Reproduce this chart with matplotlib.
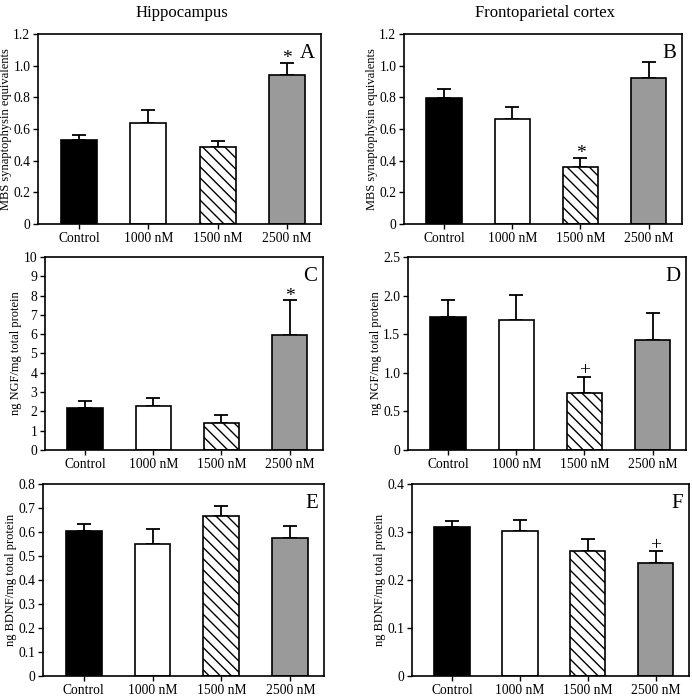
import matplotlib
matplotlib.use("Agg")
import matplotlib.pyplot as plt
import numpy as np

plt.rcParams['font.family'] = ['Liberation Serif', 'DejaVu Serif']
plt.rcParams['hatch.linewidth'] = 1.0

categories = ["Control", "1000 nM", "1500 nM", "2500 nM"]

syn_hip = [0.53, 0.635, 0.485, 0.94]
syn_hip_err = [0.035, 0.085, 0.04, 0.075]
syn_fp = [0.795, 0.665, 0.36, 0.92]
syn_fp_err = [0.055, 0.075, 0.055, 0.105]
ngf_hip = [2.2, 2.3, 1.4, 5.95]
ngf_hip_err = [0.35, 0.42, 0.42, 1.8]
ngf_fp = [1.72, 1.68, 0.74, 1.42]
ngf_fp_err = [0.22, 0.33, 0.21, 0.35]
bdnf_hip = [0.605, 0.55, 0.665, 0.575]
bdnf_hip_err = [0.027, 0.063, 0.043, 0.05]
bdnf_fp = [0.31, 0.302, 0.26, 0.235]
bdnf_fp_err = [0.012, 0.023, 0.025, 0.025]

panels = [
    dict(v=syn_hip, e=syn_hip_err, ylim=1.2, ticks=[0, 0.2, 0.4, 0.6, 0.8, 1.0, 1.2],
         tl=["0", "0.2", "0.4", "0.6", "0.8", "1.0", "1.2"], ylabel="MBS synaptophysin equivalents",
         letter="A", marks={3: "*"}, rect=(38, 34, 321, 224)),
    dict(v=syn_fp, e=syn_fp_err, ylim=1.2, ticks=[0, 0.2, 0.4, 0.6, 0.8, 1.0, 1.2],
         tl=["0", "0.2", "0.4", "0.6", "0.8", "1.0", "1.2"], ylabel="MBS synaptophysin equivalents",
         letter="B", marks={2: "*"}, rect=(404, 34, 682, 224)),
    dict(v=ngf_hip, e=ngf_hip_err, ylim=10, ticks=list(range(11)),
         tl=[str(i) for i in range(11)], ylabel="ng NGF/mg total protein",
         letter="C", marks={3: "*"}, rect=(45, 257, 323, 450)),
    dict(v=ngf_fp, e=ngf_fp_err, ylim=2.5, ticks=[0, 0.5, 1.0, 1.5, 2.0, 2.5],
         tl=["0", "0.5", "1.0", "1.5", "2.0", "2.5"], ylabel="ng NGF/mg total protein",
         letter="D", marks={2: "+"}, rect=(408, 257, 686, 450)),
    dict(v=bdnf_hip, e=bdnf_hip_err, ylim=0.8, ticks=[0, 0.1, 0.2, 0.3, 0.4, 0.5, 0.6, 0.7, 0.8],
         tl=["0", "0.1", "0.2", "0.3", "0.4", "0.5", "0.6", "0.7", "0.8"], ylabel="ng BDNF/mg total protein",
         letter="E", marks={}, rect=(43, 484, 324, 676)),
    dict(v=bdnf_fp, e=bdnf_fp_err, ylim=0.4, ticks=[0, 0.1, 0.2, 0.3, 0.4],
         tl=["0", "0.1", "0.2", "0.3", "0.4"], ylabel="ng BDNF/mg total protein",
         letter="F", marks={3: "+"}, rect=(412, 484, 689, 676)),
]

W, H = 692, 697
fig = plt.figure(figsize=(W / 100, H / 100), dpi=100)

colors = ["black", "white", "white", "#9a9a9a"]
hatches = [None, None, "\\\\\\", None]
x = np.arange(4)

for p in panels:
    l, t, r, b = p["rect"]
    ax = fig.add_axes([l / W, 1 - b / H, (r - l) / W, (b - t) / H])
    ax.errorbar(x, p["v"], yerr=[np.zeros(4), p["e"]], fmt="none", ecolor="black",
                elinewidth=1.3, capsize=5, capthick=1.3, zorder=1)
    for i in range(4):
        ax.bar(x[i], p["v"][i], width=0.52, color=colors[i], edgecolor="black",
               linewidth=1.2, hatch=hatches[i], zorder=2)
    ax.set_xlim(-0.59, 3.49)
    ax.set_ylim(0, p["ylim"])
    ax.set_yticks(p["ticks"])
    ax.set_yticklabels(p["tl"])
    ax.set_xticks(x)
    ax.set_xticklabels(categories)
    ax.tick_params(axis="both", direction="out", length=3.5, width=1, labelsize=9.8, pad=2)
    ax.set_ylabel(p["ylabel"], fontsize=9, labelpad=1)
    for s in ax.spines.values():
        s.set_linewidth(1.2)
    ax.text(1 - 6 / (r - l), 1 - 10 / (b - t), p["letter"], transform=ax.transAxes,
            ha="right", va="top", fontsize=15)
    for i, m in p["marks"].items():
        top = p["v"][i] + p["e"][i]
        off = -3 if m == "*" else -2
        ax.annotate(m, (x[i], top), xytext=(0, off), textcoords="offset points",
                    ha="center", va="bottom", fontsize=14)

fig.text(182 / W, 1 - 13 / H, "Hippocampus", ha="center", va="center", fontsize=12)
fig.text(545 / W, 1 - 13 / H, "Frontoparietal cortex", ha="center", va="center", fontsize=12)

fig.savefig("out.png", dpi=100)
